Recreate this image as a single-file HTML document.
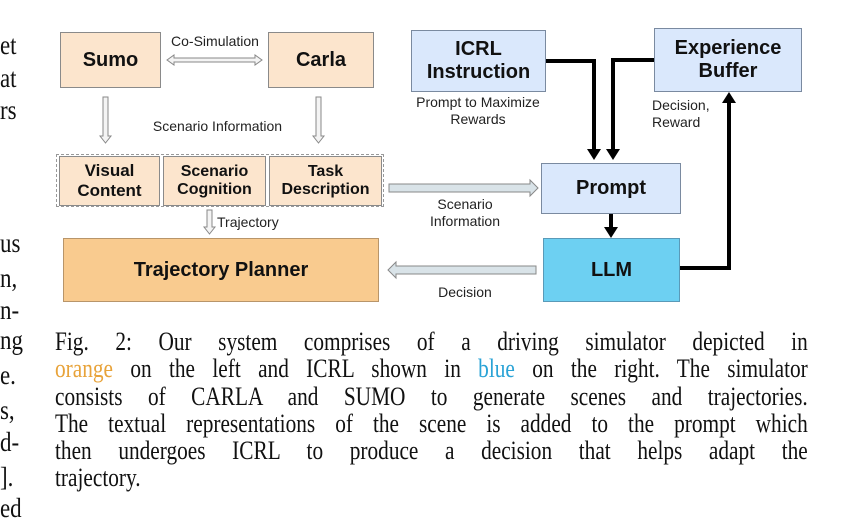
<!DOCTYPE html>
<html><head><meta charset="utf-8"><style>
body{margin:0;width:863px;height:525px;background:#fff;position:relative;overflow:hidden;font-family:"Liberation Sans",sans-serif;}
.b{position:absolute;box-sizing:border-box;border:1.5px solid #8a8a8a;display:flex;align-items:center;justify-content:center;text-align:center;font-weight:bold;color:#111;line-height:1.15;}
.o{background:#fce5cd;}
.bl{background:#dae8fc;border-color:#7a8aa0;}
.t{position:absolute;font-size:14px;color:#222;text-align:center;line-height:1.2;}
.m{position:absolute;left:0;font-family:"Liberation Serif",serif;font-size:27px;color:#111;transform:scaleX(0.85);transform-origin:left;line-height:26px;}
.cap{position:absolute;left:55px;width:918px;font-family:"Liberation Serif",serif;font-size:26px;color:#111;transform:scaleX(0.82);transform-origin:left top;}
.cap div{height:27.3px;line-height:27.3px;text-align:justify;text-align-last:justify;white-space:nowrap;}
</style></head><body>
<div class="m" style="top:32px">et</div>
<div class="m" style="top:65px">at</div>
<div class="m" style="top:97px">rs</div>
<div class="m" style="top:230px">us</div>
<div class="m" style="top:265px">n,</div>
<div class="m" style="top:297px">n-</div>
<div class="m" style="top:327px">ng</div>
<div class="m" style="top:362px">e.</div>
<div class="m" style="top:397px">s,</div>
<div class="m" style="top:429px">d-</div>
<div class="m" style="top:464px">].</div>
<div class="m" style="top:495px">ed</div>

<div class="b o" style="left:60px;top:32px;width:101px;height:56px;font-size:20px">Sumo</div>
<div class="b o" style="left:268px;top:32px;width:106px;height:56px;font-size:20px">Carla</div>
<div class="t" style="left:160px;top:33px;width:110px">Co-Simulation</div>
<div class="t" style="left:130px;top:118px;width:175px">Scenario Information</div>
<div style="position:absolute;left:56px;top:154px;width:328px;height:53px;border:1.5px dashed #999;box-sizing:border-box"></div>
<div class="b o" style="left:59px;top:156px;width:101px;height:50px;font-size:17px">Visual<br>Content</div>
<div class="b o" style="left:163px;top:156px;width:103px;height:50px;font-size:16px">Scenario<br>Cognition</div>
<div class="b o" style="left:269px;top:156px;width:113px;height:50px;font-size:16px">Task<br>Description</div>
<div class="t" style="left:217px;top:214px;text-align:left">Trajectory</div>
<div class="b" style="left:63px;top:238px;width:316px;height:64px;background:#f9cb8f;border-color:#b8956a;font-size:20px">Trajectory Planner</div>

<div class="b bl" style="left:411px;top:30px;width:135px;height:62px;font-size:20px">ICRL<br>Instruction</div>
<div class="b bl" style="left:654px;top:28px;width:148px;height:64px;font-size:20px">Experience<br>Buffer</div>
<div class="t" style="left:398px;top:94px;width:160px">Prompt to Maximize<br>Rewards</div>
<div class="t" style="left:652px;top:97px;text-align:left">Decision,<br>Reward</div>
<div class="b bl" style="left:541px;top:163px;width:140px;height:51px;font-size:20px">Prompt</div>
<div class="b" style="left:543px;top:238px;width:137px;height:64px;background:#6dd0f2;border-color:#5a9ab8;font-size:20px">LLM</div>
<div class="t" style="left:400px;top:196px;width:130px">Scenario<br>Information</div>
<div class="t" style="left:405px;top:284px;width:120px">Decision</div>

<svg width="863" height="525" style="position:absolute;left:0;top:0">
<g fill="#f4f4f4" stroke="#888" stroke-width="1">
<path d="M167,60 L174,55 L174,58 L255,58 L255,55 L262,60 L255,65 L255,62 L174,62 L174,65 Z"/>
<path d="M103,97 L108,97 L108,136 L111,136 L105.5,143 L100,136 L103,136 Z"/>
<path d="M316,97 L321,97 L321,136 L324,136 L318.5,143 L313,136 L316,136 Z"/>
<path d="M207,210 L212,210 L212,227 L215,227 L209.5,234 L204,227 L207,227 Z"/>
</g>
<g fill="#d9e3e8" stroke="#888" stroke-width="1">
<path d="M389,184 L530,184 L530,180 L538,188 L530,196 L530,192 L389,192 Z"/>
<path d="M536,266 L396,266 L396,262 L388,270 L396,278 L396,274 L536,274 Z"/>
</g>
<g stroke="#000" stroke-width="4" fill="none">
<path d="M546,61 L594,61 L594,150"/>
<path d="M654,60 L613,60 L613,150"/>
<path d="M611,214 L611,228"/>
<path d="M680,268 L729,268 L729,102"/>
</g>
<g fill="#000">
<path d="M587,149 L601,149 L594,160 Z"/>
<path d="M606,149 L620,149 L613,160 Z"/>
<path d="M604,227 L618,227 L611,238 Z"/>
<path d="M722,103 L736,103 L729,92 Z"/>
</g>
</svg>

<div class="cap" style="top:328px">
<div>Fig. 2: Our system comprises of a driving simulator depicted in</div>
<div><span style="color:#e8a33a">orange</span> on the left and ICRL shown in <span style="color:#2aa3d6">blue</span> on the right. The simulator</div>
<div>consists of CARLA and SUMO to generate scenes and trajectories.</div>
<div>The textual representations of the scene is added to the prompt which</div>
<div>then undergoes ICRL to produce a decision that helps adapt the</div>
<div style="text-align-last:left">trajectory.</div>
</div>
</body></html>
